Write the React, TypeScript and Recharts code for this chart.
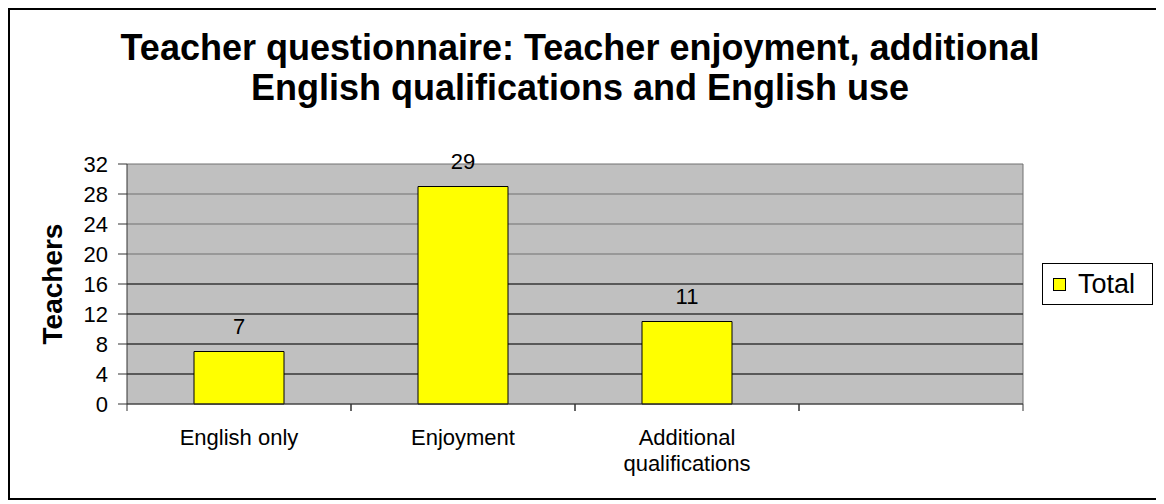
import { Bar, BarChart, CartesianGrid, LabelList, XAxis, YAxis } from "recharts";

const CATEGORIES = ["English only", "Enjoyment", "Additional qualifications", ""];
const TOTAL = [7, 29, 11, null];
const Y_TICKS = [0, 4, 8, 12, 16, 20, 24, 28, 32];
const DARK_GRID = [4, 8, 12, 16];
const SERIES_NAME = "Total";
const TITLE = ["Teacher questionnaire: Teacher enjoyment, additional", "English qualifications and English use"];
const Y_LABEL = "Teachers";

const FONT = "'Liberation Sans', Arial, sans-serif";

// Diagramm sitzt innerhalb des 2px-Rahmens
const CHART_W = 1148;
const CHART_H = 488;
const MARGIN = { top: 154, right: 135, bottom: 14, left: 0 };
const Y_AXIS_W = 117;
const PLOT_W = CHART_W - MARGIN.left - MARGIN.right - Y_AXIS_W;
const HALF_BAND = PLOT_W / CATEGORIES.length / 2;
const MAX_LINE_CHARS = 16;

// Lange Beschriftungen an Leerzeichen umbrechen
function wrap(label: string) {
  if (label.length <= MAX_LINE_CHARS) return [label];
  return label.split(" ");
}

function XTick({ x, y, payload }: { x: number; y: number; payload: { value: string } }) {
  const lines = wrap(String(payload.value ?? ""));
  return (
    <g>
      <line x1={x - HALF_BAND} x2={x - HALF_BAND} y1={y} y2={y + 7} stroke="#333" />
      <line x1={x + HALF_BAND} x2={x + HALF_BAND} y1={y} y2={y + 7} stroke="#333" />
      <text x={x} y={y + 41} textAnchor="middle" fill="#000" fontSize={22} fontFamily={FONT}>
        {lines.map((l, i) => (
          <tspan key={i} x={x} dy={i === 0 ? 0 : 26}>
            {l}
          </tspan>
        ))}
      </text>
    </g>
  );
}

export default function App() {
  const data = CATEGORIES.map((name, i) => ({ name, total: TOTAL[i] }));
  return (
    <div
      style={{
        position: "relative",
        width: 1152,
        height: 492,
        border: "2px solid #000",
        boxSizing: "border-box",
        background: "#fff",
        fontFamily: FONT,
      }}
    >
      {/* Titel */}
      <div
        style={{
          position: "absolute",
          left: 0,
          top: 18,
          width: 1140,
          textAlign: "center",
          fontWeight: "bold",
          fontSize: 36,
          lineHeight: "40px",
          color: "#000",
          whiteSpace: "nowrap",
        }}
      >
        {TITLE.map((t) => (
          <div key={t}>{t}</div>
        ))}
      </div>

      <div style={{ position: "absolute", left: 0, top: 0 }}>
        <BarChart width={CHART_W} height={CHART_H} data={data} margin={MARGIN}>
          <CartesianGrid
            fill="#c0c0c0"
            stroke="#707070"
            verticalCoordinatesGenerator={({ offset }: any) => [offset.left + offset.width]}
          />
          <CartesianGrid stroke="#1a1a1a" vertical={false} horizontalValues={DARK_GRID} />
          <XAxis
            dataKey="name"
            interval={0}
            height={80}
            tickSize={0}
            tickMargin={0}
            tickLine={false}
            axisLine={{ stroke: "#333" }}
            tick={(p: any) => <XTick {...p} />}
          />
          <YAxis
            domain={[0, 32]}
            ticks={Y_TICKS}
            interval={0}
            width={Y_AXIS_W}
            tickSize={9}
            tickMargin={10}
            axisLine={{ stroke: "#333" }}
            tickLine={{ stroke: "#333" }}
            tick={{ fontSize: 22, fill: "#000", fontFamily: FONT }}
          />
          <Bar
            dataKey="total"
            name={SERIES_NAME}
            fill="#ffff00"
            stroke="#000"
            strokeWidth={1}
            barSize={90}
            isAnimationActive={false}
          >
            <LabelList dataKey="total" position="top" offset={18} fill="#000" fontSize={22} fontFamily={FONT} />
          </Bar>
        </BarChart>
      </div>

      {/* Achsentitel */}
      <div
        style={{
          position: "absolute",
          left: 43,
          top: 274,
          transform: "translate(-50%, -50%) rotate(-90deg)",
          fontWeight: "bold",
          fontSize: 28,
          lineHeight: "28px",
          whiteSpace: "nowrap",
          color: "#000",
        }}
      >
        {Y_LABEL}
      </div>

      {/* Legende */}
      <div
        style={{
          position: "absolute",
          left: 1032,
          top: 253,
          width: 111,
          height: 42,
          border: "1px solid #000",
          boxSizing: "border-box",
          display: "flex",
          alignItems: "center",
          paddingLeft: 10,
          background: "#fff",
        }}
      >
        <span
          style={{
            width: 13,
            height: 13,
            border: "1px solid #000",
            boxSizing: "border-box",
            background: "#ffff00",
            display: "inline-block",
          }}
        />
        <span style={{ marginLeft: 12, fontSize: 27, lineHeight: "27px", color: "#000" }}>{SERIES_NAME}</span>
      </div>
    </div>
  );
}
